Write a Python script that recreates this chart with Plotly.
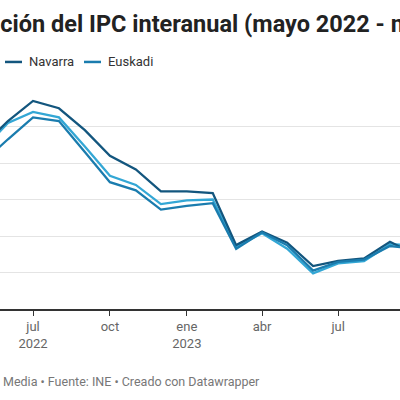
import plotly.graph_objects as go

# datos mensuales (IPC interanual, %)
meses = ["2022-05-01", "2022-06-01", "2022-07-01", "2022-08-01", "2022-09-01", "2022-10-01",
         "2022-11-01", "2022-12-01", "2023-01-01", "2023-02-01", "2023-03-01", "2023-04-01",
         "2023-05-01", "2023-06-01", "2023-07-01", "2023-08-01", "2023-09-01", "2023-10-01"]
espana = [8.7, 10.2, 10.8, 10.5, 8.9, 7.3, 6.8, 5.75, 5.95, 6.0, 3.4, 4.15, 3.3, 1.95, 2.5, 2.62, 3.55, 3.5]
navarra = [8.9, 10.3, 11.4, 11.0, 9.8, 8.4, 7.65, 6.45, 6.45, 6.35, 3.5, 4.25, 3.63, 2.35, 2.64, 2.77, 3.68, 3.0]
euskadi = [8.0, 9.3, 10.5, 10.3, 8.6, 6.95, 6.5, 5.45, 5.65, 5.8, 3.3, 4.2, 3.5, 2.1, 2.58, 2.71, 3.45, 3.3]

tick_fechas = ["2022-07-01", "2022-10-01", "2023-01-01", "2023-04-01", "2023-07-01"]
tick_textos = ["jul<br>2022", "oct", "ene<br>2023", "abr", "jul"]

series = [("España", espana, "#33a7d5"), ("Navarra", navarra, "#13567e"), ("Euskadi", euskadi, "#1a7cae")]

TOP, BOT = 90, 308.7


def py(y):
    return (BOT - y) / (BOT - TOP)


def px(x):
    return x / 400


fig = go.Figure()
for nombre, valores, color in series:
    fig.add_trace(go.Scatter(x=meses, y=valores, name=nombre, mode="lines",
                             line=dict(color=color, width=2.3)))

fig.update_layout(
    width=400, height=400,
    margin=dict(l=0, r=0, t=TOP, b=400 - BOT),
    paper_bgcolor="white", plot_bgcolor="white",
    showlegend=False,
    font=dict(family="Roboto", color="#333"),
)
fig.update_xaxes(
    type="date", range=["2022-05-22 12:00", "2023-09-13"],
    tickvals=tick_fechas, ticktext=tick_textos,
    showgrid=False, showline=True, linecolor="#333", linewidth=1.5,
    ticks="outside", ticklen=5, tickcolor="#333", tickwidth=1,
    tickfont=dict(size=13, color="#666"),
)
fig.update_yaxes(range=[0, 12], dtick=2, showticklabels=False, zeroline=False,
                 gridcolor="#e4e4e4", gridwidth=1)

# título (recortado por el borde izquierdo como en la imagen)
fig.add_annotation(text="<b>Evolución del IPC interanual (mayo 2022 - mayo 2024)</b>",
                   xref="paper", yref="paper", x=px(-59), y=py(24),
                   xanchor="left", yanchor="middle", showarrow=False,
                   font=dict(size=23.5, color="#222"))

# leyenda
leyenda_x = [-73, 5, 84]
for (nombre, valores, color), lx in zip(series, leyenda_x):
    fig.add_shape(type="line", xref="paper", yref="paper",
                  x0=px(lx), x1=px(lx + 17), y0=py(62), y1=py(62),
                  line=dict(color=color, width=2.5))
    fig.add_annotation(text=nombre, xref="paper", yref="paper", x=px(lx + 22), y=py(62),
                       xanchor="left", yanchor="middle", showarrow=False,
                       font=dict(size=13, color="#333"))

fig.add_annotation(text="Media • Fuente: INE • Creado con Datawrapper",
                   xref="paper", yref="paper", x=px(1), y=py(381),
                   xanchor="left", yanchor="middle", showarrow=False,
                   font=dict(size=12.5, color="#777"))

fig.write_html("out.html", config={"displayModeBar": False},
               post_script="document.body.style.margin='0';")
